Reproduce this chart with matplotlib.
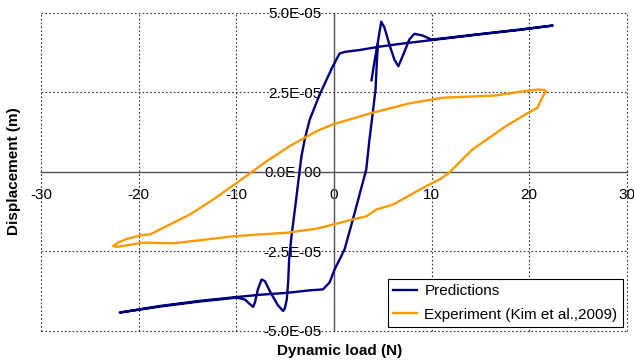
import numpy as np
import matplotlib
matplotlib.use("Agg")
import matplotlib.pyplot as plt
from matplotlib.ticker import FixedLocator, FuncFormatter

plt.rc('font', family='Liberation Sans')

TICK_SIZE = 11
LABEL_SIZE = 11

# model prediction (load in N, displacement in 1e-5 m)
pred_load = [3.85, 4.15, 4.46, 4.84, 5.17, 5.68, 6.19, 6.60, 7.11, 7.72, 8.23, 9.05,
             9.97, 11.81, 14.87, 18.95, 22.42, 18.95, 14.87, 9.97, 6.70, 4.77, 2.62,
             1.09, 0.58, -0.13, -1.46, -2.48, -2.99, -3.33, -3.50, -3.91, -4.35, -4.59,
             -4.69, -4.83, -5.03, -5.20, -5.74, -6.56, -7.07, -7.41, -7.79, -8.09, -8.27,
             -8.70, -9.11, -9.96, -13.70, -17.79, -21.94, -17.79, -13.70, -9.96, -7.58,
             -4.86, -2.48, -1.12, -0.44, 0.07, 0.58, 1.09, 1.94, 3.31, 3.64, 3.98, 4.26,
             4.41, 4.51]
pred_disp = [2.88, 3.47, 4.00, 4.72, 4.54, 4.00, 3.53, 3.32, 3.69, 4.16, 4.34, 4.29,
             4.16, 4.22, 4.33, 4.47, 4.60, 4.46, 4.32, 4.14, 4.02, 3.94, 3.83,
             3.77, 3.72, 3.31, 2.43, 1.64, 1.02, 0.48, 0.07, -0.97, -2.03, -2.76,
             -3.48, -4.02, -4.30, -4.38, -4.20, -3.76, -3.44, -3.39, -3.70, -4.11, -4.25,
             -4.14, -4.02, -3.96, -4.08, -4.24, -4.43, -4.22, -4.06, -3.94, -3.87,
             -3.81, -3.73, -3.70, -3.48, -3.07, -2.76, -2.44, -1.50, 0.07, 1.02, 1.86, 2.59,
             3.53, 4.00]

# experiment, Kim et al. 2009
exp_load = [21.70, 21.50, 21.16, 20.82, 19.97, 17.59, 14.18, 13.16, 11.81, 10.82, 9.46,
            6.06, 4.33, 3.34, 1.94, -0.08, -1.77, -4.86, -7.58, -10.64, -11.66, -16.43,
            -19.49, -22.20, -22.61, -22.07, -21.18, -19.83, -18.81, -17.79, -14.73,
            -12.35, -9.96, -7.58, -6.90, -4.52, -3.16, -1.77, -0.10, 4.00, 7.72, 11.16,
            16.60, 19.33, 20.99, 21.50, 21.70]
exp_disp = [2.53, 2.43, 2.22, 2.01, 1.87, 1.43, 0.70, 0.39, -0.03, -0.24, -0.45,
            -1.03, -1.19, -1.40, -1.50, -1.66, -1.79, -1.92, -1.97, -2.04, -2.08, -2.25,
            -2.23, -2.36, -2.34, -2.22, -2.11, -2.00, -1.97, -1.81, -1.34,
            -0.87, -0.35, 0.18, 0.33, 0.81, 1.04, 1.28, 1.49, 1.86, 2.15, 2.33,
            2.40, 2.53, 2.59, 2.57, 2.53]

x_ticks = [-30, -20, -10, 0, 10, 20, 30]
y_ticks = [-5e-5, -2.5e-5, 0.0, 2.5e-5, 5e-5]

fig = plt.figure(figsize=(6.34, 3.6), dpi=100)
ax = fig.add_axes([0.0647, 0.0814, 0.924, 0.883])

ax.plot(pred_load, np.array(pred_disp) * 1e-5, color='#000080', lw=1.7,
        label='Predictions', zorder=3, solid_joinstyle='round')
ax.plot(exp_load, np.array(exp_disp) * 1e-5, color='#FF9900', lw=1.7,
        label='Experiment (Kim et al.,2009)', zorder=3, solid_joinstyle='round')

ax.set_xlim(-30, 30)
ax.set_ylim(-5e-5, 5e-5)
ax.xaxis.set_major_locator(FixedLocator(x_ticks))
ax.yaxis.set_major_locator(FixedLocator(y_ticks))
ax.xaxis.set_major_formatter(FuncFormatter(lambda v, p: "%d" % v))
ax.yaxis.set_major_formatter(FuncFormatter(lambda v, p: "%.1E" % v))

# axes cross at the origin
ax.spines['left'].set_position(('data', 0))
ax.spines['bottom'].set_position(('data', 0))
ax.spines['top'].set_visible(False)
ax.spines['right'].set_visible(False)
for s in ['left', 'bottom']:
    ax.spines[s].set_color('#555555')
    ax.spines[s].set_linewidth(1.0)
    ax.spines[s].set_zorder(2)

ax.tick_params(axis='both', length=0, labelsize=TICK_SIZE, colors='black')
ax.tick_params(axis='x', pad=12)
ax.tick_params(axis='y', pad=9)

ax.grid(True, color='#333333', linestyle=(0, (1.5, 2)), linewidth=0.8, zorder=1)
ax.set_axisbelow(True)
for gl in ax.get_xgridlines() + ax.get_ygridlines():
    gl.set_clip_on(False)

fig.text(0.535, 0.025, "Dynamic load (N)", ha='center', va='center',
         fontsize=LABEL_SIZE, fontweight='bold')
fig.text(0.022, 0.525, "Displacement (m)", ha='center', va='center',
         rotation=90, fontsize=LABEL_SIZE, fontweight='bold')

leg = ax.legend(loc='lower right', bbox_to_anchor=(0.993, 0.012), fontsize=TICK_SIZE,
                frameon=True, fancybox=False, edgecolor='black', framealpha=1,
                borderpad=0.35, handlelength=1.6, handletextpad=0.45, labelspacing=0.6,
                borderaxespad=0)
leg.get_frame().set_linewidth(0.8)

fig.savefig("out.png", dpi=100)
